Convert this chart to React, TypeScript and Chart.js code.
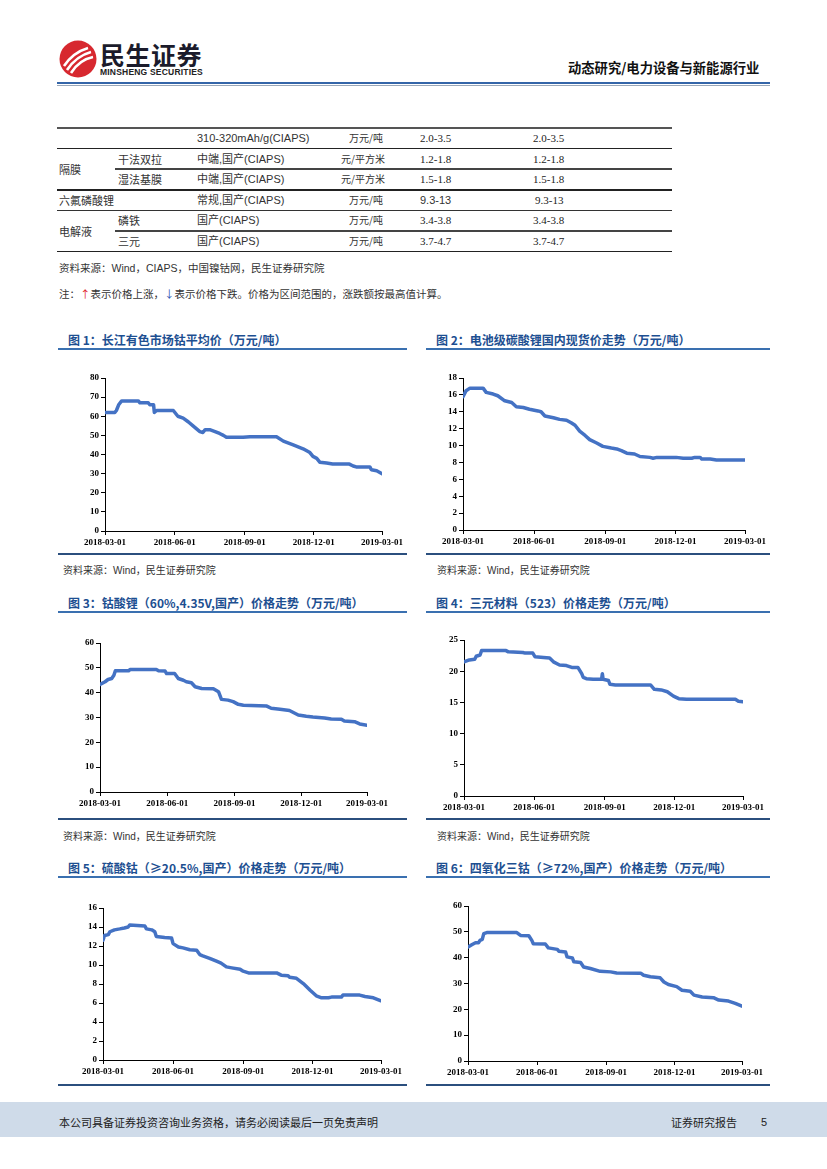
import React, { useEffect, useRef } from "react";
import { Chart, registerables } from "chart.js";
Chart.register(...registerables);

const xTickDates = ["2018-03-01", "2018-06-01", "2018-09-01", "2018-12-01", "2019-03-01"];

const c1Dates = ["2018-03-01","2018-03-14","2018-03-16","2018-03-19","2018-03-23","2018-04-14","2018-04-16","2018-04-27","2018-04-29","2018-05-04","2018-05-05","2018-05-08","2018-05-30","2018-06-05","2018-06-12","2018-06-19","2018-06-25","2018-07-04","2018-07-08","2018-07-11","2018-07-17","2018-07-24","2018-07-30","2018-08-04","2018-08-08","2018-08-30","2018-09-08","2018-10-13","2018-10-22","2018-11-04","2018-11-17","2018-11-26","2018-11-30","2018-12-05","2018-12-09","2018-12-18","2018-12-26","2019-01-17","2019-01-22","2019-01-26","2019-02-13","2019-02-15","2019-02-22","2019-03-01"];
const c1Values = [62,62,63,66,68,68,67,67,66,66,62,63,63,60,59,57,55,52,51.5,53,53,52,51,50,49,49,49.3,49.3,47,45,43,41,39,38,36,35.5,35,35,34,33.5,33.5,32,31.5,30];

const c2Dates = ["2018-03-01","2018-03-05","2018-03-10","2018-03-27","2018-03-31","2018-04-09","2018-04-15","2018-04-24","2018-05-03","2018-05-09","2018-05-18","2018-05-26","2018-06-06","2018-06-10","2018-06-15","2018-06-26","2018-07-04","2018-07-13","2018-07-19","2018-07-24","2018-07-30","2018-08-06","2018-08-12","2018-08-21","2018-08-29","2018-09-09","2018-09-16","2018-09-22","2018-09-29","2018-10-09","2018-10-16","2018-10-29","2018-11-02","2018-11-07","2018-12-02","2018-12-11","2018-12-22","2018-12-26","2019-01-02","2019-01-04","2019-01-15","2019-01-23","2019-03-01"];
const c2Values = [15.8,16.5,16.8,16.8,16.3,16.1,15.9,15.3,15.1,14.6,14.5,14.3,14.1,14.0,13.5,13.3,13.1,13.0,12.7,12.4,11.7,11.2,10.7,10.3,9.9,9.7,9.6,9.4,9.1,9.0,8.7,8.6,8.5,8.6,8.6,8.5,8.5,8.6,8.6,8.4,8.4,8.3,8.3];

const c3Dates = ["2018-03-01","2018-03-08","2018-03-12","2018-03-17","2018-03-20","2018-03-22","2018-04-09","2018-04-11","2018-05-17","2018-05-20","2018-05-29","2018-05-31","2018-06-11","2018-06-16","2018-06-23","2018-06-27","2018-07-04","2018-07-09","2018-07-18","2018-08-03","2018-08-10","2018-08-14","2018-08-23","2018-08-30","2018-09-06","2018-09-13","2018-10-15","2018-10-21","2018-11-02","2018-11-15","2018-11-27","2018-12-08","2018-12-17","2019-01-02","2019-01-11","2019-01-25","2019-01-29","2019-02-12","2019-02-19","2019-03-01"];
const c3Values = [43.3,44.4,45.3,45.7,47,48.8,48.8,49.3,49.3,48.8,48.7,47.7,47.7,45.7,45,44.4,44,42.4,41.7,41.6,40.4,37.3,37,36.4,35.3,34.9,34.6,33.7,33.3,32.8,31,30.5,30.2,29.8,29.4,29.3,28.6,28.3,27.4,26.9];

const c4Dates = ["2018-03-01","2018-03-08","2018-03-15","2018-03-17","2018-03-22","2018-03-24","2018-04-25","2018-04-28","2018-05-17","2018-05-20","2018-05-30","2018-06-02","2018-06-13","2018-06-21","2018-06-26","2018-07-04","2018-07-13","2018-07-20","2018-07-28","2018-08-02","2018-08-04","2018-08-08","2018-08-17","2018-08-28","2018-08-29","2018-08-30","2018-09-06","2018-09-08","2018-09-15","2018-10-31","2018-11-05","2018-11-14","2018-11-22","2018-11-30","2018-12-07","2018-12-17","2019-02-19","2019-02-23","2019-03-01"];
const c4Values = [21.5,21.8,21.9,22.4,22.6,23.3,23.3,23.1,23.0,22.9,22.9,22.3,22.2,22.1,21.5,21.0,20.9,20.6,20.6,19.6,19.0,18.8,18.7,18.7,19.6,18.7,18.5,17.9,17.8,17.8,17.1,17.0,16.7,16.0,15.6,15.5,15.5,15.2,15.1];

const c5Dates = ["2018-03-01","2018-03-03","2018-03-08","2018-03-10","2018-03-16","2018-03-23","2018-03-29","2018-04-03","2018-04-05","2018-04-25","2018-04-27","2018-05-04","2018-05-08","2018-05-10","2018-05-21","2018-05-30","2018-06-01","2018-06-08","2018-06-14","2018-06-23","2018-07-02","2018-07-06","2018-07-10","2018-07-19","2018-07-28","2018-08-03","2018-08-10","2018-08-17","2018-08-28","2018-09-01","2018-09-08","2018-10-15","2018-10-21","2018-10-30","2018-11-01","2018-11-10","2018-11-19","2018-11-28","2018-12-06","2018-12-13","2018-12-22","2018-12-26","2019-01-08","2019-01-10","2019-02-01","2019-02-08","2019-02-19","2019-03-01"];
const c5Values = [12.6,13.1,13.2,13.5,13.7,13.8,13.9,14.0,14.2,14.1,13.8,13.7,13.5,13.0,12.9,12.85,12.25,11.9,11.8,11.6,11.55,11.1,10.96,10.7,10.4,10.2,9.8,9.7,9.56,9.35,9.17,9.17,8.93,8.86,8.7,8.6,8.05,7.35,6.76,6.55,6.55,6.62,6.62,6.83,6.83,6.69,6.55,6.23];

const c6Dates = ["2018-03-01","2018-03-06","2018-03-11","2018-03-15","2018-03-17","2018-03-20","2018-03-22","2018-03-26","2018-05-05","2018-05-10","2018-05-21","2018-05-25","2018-05-27","2018-06-12","2018-06-16","2018-06-28","2018-06-30","2018-07-09","2018-07-11","2018-07-18","2018-07-20","2018-07-29","2018-08-02","2018-08-11","2018-08-24","2018-09-07","2018-09-15","2018-10-17","2018-10-21","2018-10-30","2018-11-12","2018-11-17","2018-11-23","2018-12-04","2018-12-11","2018-12-22","2018-12-27","2019-01-07","2019-01-22","2019-01-29","2019-02-11","2019-02-20","2019-03-01"];
const c6Values = [44.1,45,45.8,45.8,46.7,47.1,49.3,49.7,49.7,48.6,48.5,46.7,45.4,45.3,43.8,43.2,42.5,42.2,40.3,39.9,38.4,38.1,36.4,35.8,34.7,34.5,34.1,34.0,33.2,32.6,32.2,30.6,29.6,28.8,27.4,27.0,25.5,24.8,24.5,23.6,23.2,22.3,21.2];

const BASE = Date.UTC(2018, 2, 1);
function dayIndex(s: string): number {
  const [y, m, d] = s.split("-").map(Number);
  return Math.round((Date.UTC(y, m - 1, d) - BASE) / 86400000);
}

const CJK = '"Noto Sans CJK SC", sans-serif';
const SANS = '"Liberation Sans", "Noto Sans CJK SC", sans-serif';
const SERIF = '"Liberation Serif", "Noto Sans CJK SC", serif';

type LCProps = {
  axisX: number; axisEnd: number; axisTop: number; axisBottom: number;
  dates: string[]; values: number[]; yMax: number; yStep: number;
};

function LineChart({ axisX, axisEnd, axisTop, axisBottom, dates, values, yMax, yStep }: LCProps) {
  const ref = useRef<HTMLCanvasElement>(null);
  const YW = 28, PL = 20, PR = 40, PT = 10, XH = 20, PB = 4;
  const left = axisX - YW - PL;
  const width = axisEnd - axisX + YW + PL + PR;
  const top = axisTop - PT;
  const height = axisBottom - axisTop + PT + XH + PB;
  useEffect(() => {
    const tickVals = xTickDates.map(dayIndex);
    const tickFont = { family: '"Liberation Serif", serif', size: 9, weight: "bold" as const };
    const chart = new Chart(ref.current!, {
      type: "line",
      data: {
        datasets: [{
          data: dates.map((d, i) => ({ x: dayIndex(d), y: values[i] })),
          borderColor: "#4472c4",
          borderWidth: 3.5,
          pointRadius: 0,
          tension: 0,
          fill: false,
          borderCapStyle: "round",
          borderJoinStyle: "round",
        }],
      },
      options: {
        animation: false,
        responsive: true,
        maintainAspectRatio: false,
        events: [],
        layout: { padding: { left: PL, right: PR, top: PT, bottom: PB } },
        plugins: { legend: { display: false }, tooltip: { enabled: false } },
        scales: {
          x: {
            type: "linear",
            min: 0,
            max: 365,
            afterBuildTicks: (ax: any) => { ax.ticks = tickVals.map((v) => ({ value: v })); },
            afterFit: (s: any) => { s.height = XH; },
            grid: { display: true, drawOnChartArea: false, drawTicks: true, tickLength: 4, color: "#000", lineWidth: 1 },
            border: { display: true, color: "#000", width: 1 },
            ticks: {
              autoSkip: false, maxRotation: 0, padding: 2, color: "#000", font: tickFont,
              callback: (_v: any, i: number) => xTickDates[i] ?? "",
            },
          },
          y: {
            type: "linear",
            min: 0,
            max: yMax,
            afterFit: (s: any) => { s.width = YW; },
            grid: { display: true, drawOnChartArea: false, drawTicks: true, tickLength: 4, color: "#000", lineWidth: 1 },
            border: { display: true, color: "#000", width: 1 },
            ticks: { stepSize: yStep, padding: 2, color: "#000", font: tickFont },
          },
        },
      } as any,
    });
    return () => chart.destroy();
  }, []);
  return (
    <div style={{ position: "absolute", left, top, width, height }}>
      <canvas ref={ref} />
    </div>
  );
}

function T({ x, y, children, size = 11, font = CJK, color = "#333", weight = 400, style }: any) {
  return (
    <div style={{ position: "absolute", left: x, top: y, transform: "translateY(-50%)", whiteSpace: "nowrap", lineHeight: 1, fontSize: size, fontFamily: font, color, fontWeight: weight, ...style }}>
      {children}
    </div>
  );
}

function HLine({ x1, x2, y, h = 1, color = "#333" }: any) {
  return <div style={{ position: "absolute", left: x1, top: y - h / 2, width: x2 - x1, height: h, background: color }} />;
}

const TITLE_COLOR = "#1d4f91";
const LINE_BLUE = "#3a70b0";
const LINE_DARK = "#2b4f7e";

function Section({ x1, x2, titleY, title, bottomY, sourceY, sourceX }: any) {
  return (
    <>
      <T x={x1 + 10} y={titleY} size={12} weight={700} color={TITLE_COLOR}>{title}</T>
      <HLine x1={x1} x2={x2} y={titleY + 9} h={2} color={LINE_BLUE} />
      <HLine x1={x1} x2={x2} y={bottomY} h={1.5} color={LINE_DARK} />
      {sourceY ? <T x={sourceX} y={sourceY} size={10} color="#333">资料来源：<span style={{ fontFamily: SANS }}>Wind</span>，民生证券研究院</T> : null}
    </>
  );
}

export default function App() {
  const rowsY = [138, 159, 179, 200, 220, 241];
  const c3x = 197, c4x = 349, c5x = 420, c6x = 533;
  const numStyle = { font: SERIF, size: 11, color: "#222" };
  return (
    <div style={{ position: "absolute", left: 0, top: 0, width: 827, height: 1169, overflow: "hidden", background: "#fff" }}>
      {/* Header */}
      <svg style={{ position: "absolute", left: 58, top: 39 }} width={40} height={40} viewBox="0 0 40 40">
        <circle cx={20} cy={20} r={18.5} fill="#d7282f" />
        <path d="M6 27 C12 18 20 12 30 9" stroke="#fff" strokeWidth={2.6} fill="none" />
        <path d="M9 31 C15 22 22 16 33 13" stroke="#fff" strokeWidth={2.6} fill="none" />
        <path d="M13 34 C18 26 25 20 35 18" stroke="#fff" strokeWidth={2.6} fill="none" />
      </svg>
      <T x={100} y={54} size={25} weight={700} font={CJK} color="#1b1b2b" style={{ letterSpacing: 0.5 }}>民生证券</T>
      <T x={100} y={72} size={8.5} weight={700} font={'"Liberation Sans Narrow", "Liberation Sans", sans-serif'} color="#222" style={{ letterSpacing: 0.2 }}>MINSHENG SECURITIES</T>
      <T x={568} y={68} size={13.3} weight={700} color="#111">动态研究/电力设备与新能源行业</T>
      <HLine x1={57} x2={770} y={83} h={2.5} color="#3465a8" />
      <HLine x1={57} x2={770} y={85.2} h={1} color="#9aa7b8" />

      {/* Table */}
      <HLine x1={57} x2={672} y={127.5} h={2} color="#555" />
      <HLine x1={57} x2={672} y={148.5} h={1.3} color="#222" />
      <HLine x1={115} x2={672} y={169} h={1.3} color="#444" />
      <HLine x1={57} x2={672} y={190} h={1.3} color="#222" />
      <HLine x1={57} x2={672} y={210.5} h={1.3} color="#333" />
      <HLine x1={115} x2={672} y={231} h={1.3} color="#444" />
      <HLine x1={57} x2={672} y={251.5} h={1.5} color="#222" />

      <T x={c3x} y={rowsY[0]} font={SANS} size={11}>310-320mAh/g(CIAPS)</T>
      <T x={c4x} y={rowsY[0]} size={10}>万元/吨</T>
      <T x={c5x} y={rowsY[0]} {...numStyle}>2.0-3.5</T>
      <T x={c6x} y={rowsY[0]} {...numStyle}>2.0-3.5</T>

      <T x={59} y={169} size={11}>隔膜</T>
      <T x={118} y={rowsY[1]} size={11}>干法双拉</T>
      <T x={c3x} y={rowsY[1]} font={SANS} size={11}>中端,国产(CIAPS)</T>
      <T x={341} y={rowsY[1]} size={10}>元/平方米</T>
      <T x={c5x} y={rowsY[1]} {...numStyle}>1.2-1.8</T>
      <T x={c6x} y={rowsY[1]} {...numStyle}>1.2-1.8</T>

      <T x={118} y={rowsY[2]} size={11}>湿法基膜</T>
      <T x={c3x} y={rowsY[2]} font={SANS} size={11}>中端,国产(CIAPS)</T>
      <T x={341} y={rowsY[2]} size={10}>元/平方米</T>
      <T x={c5x} y={rowsY[2]} {...numStyle}>1.5-1.8</T>
      <T x={c6x} y={rowsY[2]} {...numStyle}>1.5-1.8</T>

      <T x={59} y={rowsY[3]} size={11}>六氟磷酸锂</T>
      <T x={c3x} y={rowsY[3]} font={SANS} size={11}>常规,国产(CIAPS)</T>
      <T x={c4x} y={rowsY[3]} size={10}>万元/吨</T>
      <T x={c5x} y={rowsY[3]} font={SANS} size={11}>9.3-13</T>
      <T x={535} y={rowsY[3]} {...numStyle}>9.3-13</T>

      <T x={59} y={231} size={11}>电解液</T>
      <T x={118} y={rowsY[4]} size={11}>磷铁</T>
      <T x={c3x} y={rowsY[4]} font={SANS} size={11}>国产(CIAPS)</T>
      <T x={c4x} y={rowsY[4]} size={10}>万元/吨</T>
      <T x={c5x} y={rowsY[4]} {...numStyle}>3.4-3.8</T>
      <T x={c6x} y={rowsY[4]} {...numStyle}>3.4-3.8</T>

      <T x={118} y={rowsY[5]} size={11}>三元</T>
      <T x={c3x} y={rowsY[5]} font={SANS} size={11}>国产(CIAPS)</T>
      <T x={c4x} y={rowsY[5]} size={10}>万元/吨</T>
      <T x={c5x} y={rowsY[5]} {...numStyle}>3.7-4.7</T>
      <T x={c6x} y={rowsY[5]} {...numStyle}>3.7-4.7</T>

      <T x={59} y={268} size={10.5}>资料来源：<span style={{ fontFamily: SANS }}>Wind，CIAPS</span>，中国镍钴网，民生证券研究院</T>
      <T x={59} y={294} size={10.5}>注：<span style={{ color: "#e0262b" }}>↑</span>表示价格上涨，<span style={{ color: "#2b4fb0" }}>↓</span>表示价格下跌。价格为区间范围的，涨跌额按最高值计算。</T>

      {/* Section frames */}
      <Section x1={58} x2={407} titleY={340} title="图 1：长江有色市场钴平均价（万元/吨）" bottomY={554} sourceY={570} sourceX={63} />
      <Section x1={426} x2={770} titleY={340} title="图 2：电池级碳酸锂国内现货价走势（万元/吨）" bottomY={554} sourceY={570} sourceX={437} />
      <Section x1={58} x2={407} titleY={603} title="图 3：钴酸锂（60%,4.35V,国产）价格走势（万元/吨）" bottomY={819} sourceY={836} sourceX={63} />
      <Section x1={426} x2={770} titleY={603} title="图 4：三元材料（523）价格走势（万元/吨）" bottomY={819} sourceY={836} sourceX={437} />
      <Section x1={58} x2={407} titleY={868} title="图 5：硫酸钴（≥20.5%,国产）价格走势（万元/吨）" bottomY={1085} />
      <Section x1={426} x2={770} titleY={868} title="图 6：四氧化三钴（≥72%,国产）价格走势（万元/吨）" bottomY={1085} />

      <LineChart axisX={105} axisEnd={382} axisTop={378} axisBottom={531} dates={c1Dates} values={c1Values} yMax={80} yStep={10} />
      <LineChart axisX={463} axisEnd={745} axisTop={378} axisBottom={530} dates={c2Dates} values={c2Values} yMax={18} yStep={2} />
      <LineChart axisX={100} axisEnd={367} axisTop={643} axisBottom={792} dates={c3Dates} values={c3Values} yMax={60} yStep={10} />
      <LineChart axisX={464} axisEnd={743} axisTop={640} axisBottom={796} dates={c4Dates} values={c4Values} yMax={25} yStep={5} />
      <LineChart axisX={103} axisEnd={381} axisTop={908} axisBottom={1060} dates={c5Dates} values={c5Values} yMax={16} yStep={2} />
      <LineChart axisX={468} axisEnd={742} axisTop={906} axisBottom={1061} dates={c6Dates} values={c6Values} yMax={60} yStep={10} />

      {/* Footer */}
      <div style={{ position: "absolute", left: 0, top: 1102, width: 827, height: 35, background: "#cfdbe9" }} />
      <T x={59} y={1122} size={11} color="#222">本公司具备证券投资咨询业务资格，请务必阅读最后一页免责声明</T>
      <T x={671} y={1122} size={11} color="#222">证券研究报告</T>
      <T x={761} y={1122} size={11} font={SANS} color="#222">5</T>
    </div>
  );
}
